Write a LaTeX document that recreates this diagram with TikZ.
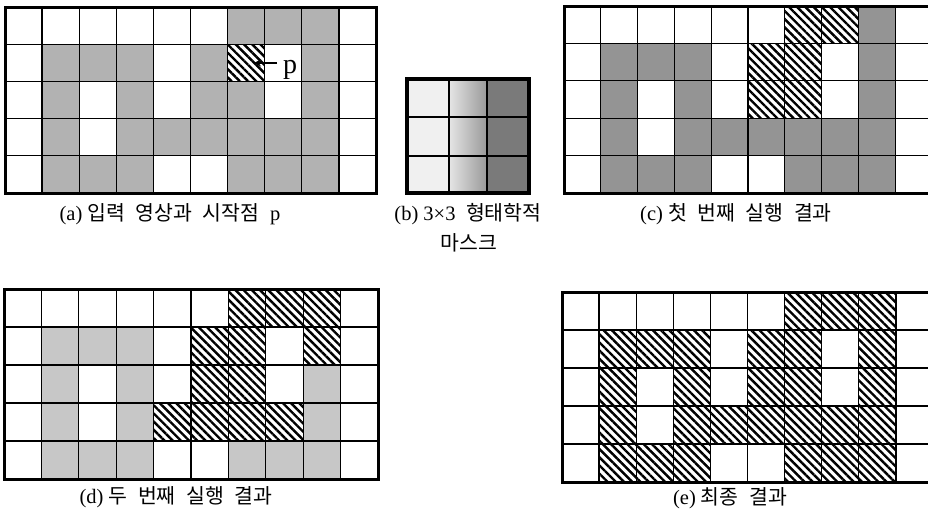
\documentclass[tikz,border=0pt]{standalone}
\usepackage{fontspec}
\setmainfont{Liberation Serif}
\newfontfamily\kr[WordSpace=2.3]{Noto Sans CJK KR}
\usetikzlibrary{patterns.meta,arrows.meta}
\tikzset{
  grayA/.style={fill=black!30},
  grayC/.style={fill=black!42},
  grayD/.style={fill=black!22},
  hatchcell/.style={pattern={Lines[angle=-45,distance=5.8pt,line width=2.4pt]}},
  gridline/.style={line width=1.3pt},
  frameline/.style={line width=3pt},
  captext/.style={font=\fontsize{20.5}{24}\selectfont, inner sep=0pt, anchor=center},
  plabel/.style={font=\fontsize{28}{30}\selectfont, inner sep=0pt, anchor=base},
  parrow/.style={line width=2pt, -{Stealth[length=7pt,width=7pt]}},
}
% #1 x0, #2 y0, #3 cell width, #4 cell height, #5 gray style, #6 rows (0 white, 1 gray, 2 hatched)
\newcommand\cellgrid[6]{%
  \foreach \rw [count=\r from 0] in {#6} {
    \foreach \v [count=\i from 0] in \rw {
      \ifnum\v=1 \fill[#5] ({#1+\i*#3},{#2+\r*#4}) rectangle ++(#3,#4);\fi
      \ifnum\v=2 \fill[hatchcell] ({#1+\i*#3},{#2+\r*#4}) rectangle ++(#3,#4);\fi
    }
  }
  \foreach \i in {1,...,9} \draw[gridline] ({#1+\i*#3},#2) -- ++(0,{5*#4});
  \foreach \r in {1,...,4} \draw[gridline] (#1,{#2+\r*#4}) -- ++({10*#3},0);
  \draw[frameline] (#1,#2) rectangle ++({10*#3},{5*#4});
}
\begin{document}
\begin{tikzpicture}[x=1pt,y=-1pt]
\useasboundingbox (0,0) rectangle (928,514);
\clip (0,0) rectangle (928,514);
\fill[white] (0,0) rectangle (928,514);

% (a) input image
\cellgrid{5}{7}{37.1}{37.2}{grayA}{
 {0,0,0,0,0,0,1,1,1,0},
 {0,1,1,1,0,1,2,0,1,0},
 {0,1,0,1,0,1,1,0,1,0},
 {0,1,0,1,1,1,1,1,1,0},
 {0,1,1,1,0,0,1,1,1,0}}
\node[plabel] (p) at (290,73) {p};
\coordinate (ptail) at (277,63);
\coordinate (ptip) at (254,63);
\draw[parrow] (ptail) -- (ptip);

% (b) 3x3 mask
\fill[black!6] (407,79) rectangle (449,193);
\shade[left color=black!10, right color=black!40] (449,79) rectangle (487,193);
\fill[black!52] (487,79) rectangle (529,193);
\draw[gridline] (449,79) -- (449,193);
\draw[gridline] (487,79) -- (487,193);
\draw[gridline] (407,117) -- (529,117);
\draw[gridline] (407,156) -- (529,156);
\draw[line width=3.5pt] (407,79) rectangle (529,193);

% (c) first pass
\cellgrid{564}{6}{36.8}{37.4}{grayC}{
 {0,0,0,0,0,0,2,2,1,0},
 {0,1,1,1,0,2,2,0,1,0},
 {0,1,0,1,0,2,2,0,1,0},
 {0,1,0,1,1,1,1,1,1,0},
 {0,1,1,1,0,0,1,1,1,0}}

% (d) second pass
\cellgrid{4}{289}{37.4}{38}{grayD}{
 {0,0,0,0,0,0,2,2,2,0},
 {0,1,1,1,0,2,2,0,2,0},
 {0,1,0,1,0,2,2,0,1,0},
 {0,1,0,1,2,2,2,2,1,0},
 {0,1,1,1,0,0,1,1,1,0}}

% (e) final
\cellgrid{562}{292}{37.1}{38}{grayD}{
 {0,0,0,0,0,0,2,2,2,0},
 {0,2,2,2,0,2,2,0,2,0},
 {0,2,0,2,0,2,2,0,2,0},
 {0,2,0,2,2,2,2,2,2,0},
 {0,2,2,2,0,0,2,2,2,0}}

% captions
\node[captext] (capa) at (170,214) {(a) {\kr 입력 영상과 시작점 }p};
\node[captext] (capb1) at (468,214) {(b) 3×3{\kr\ 형태학적}};
\node[captext] (capb2) at (469,243) {\kr 마스크};
\node[captext] (capc) at (736,214) {(c) {\kr 첫 번째 실행 결과}};
\node[captext] (capd) at (176,497) {(d) {\kr 두 번째 실행 결과}};
\node[captext] (cape) at (730,498) {(e) {\kr 최종 결과}};
\end{tikzpicture}
\end{document}
